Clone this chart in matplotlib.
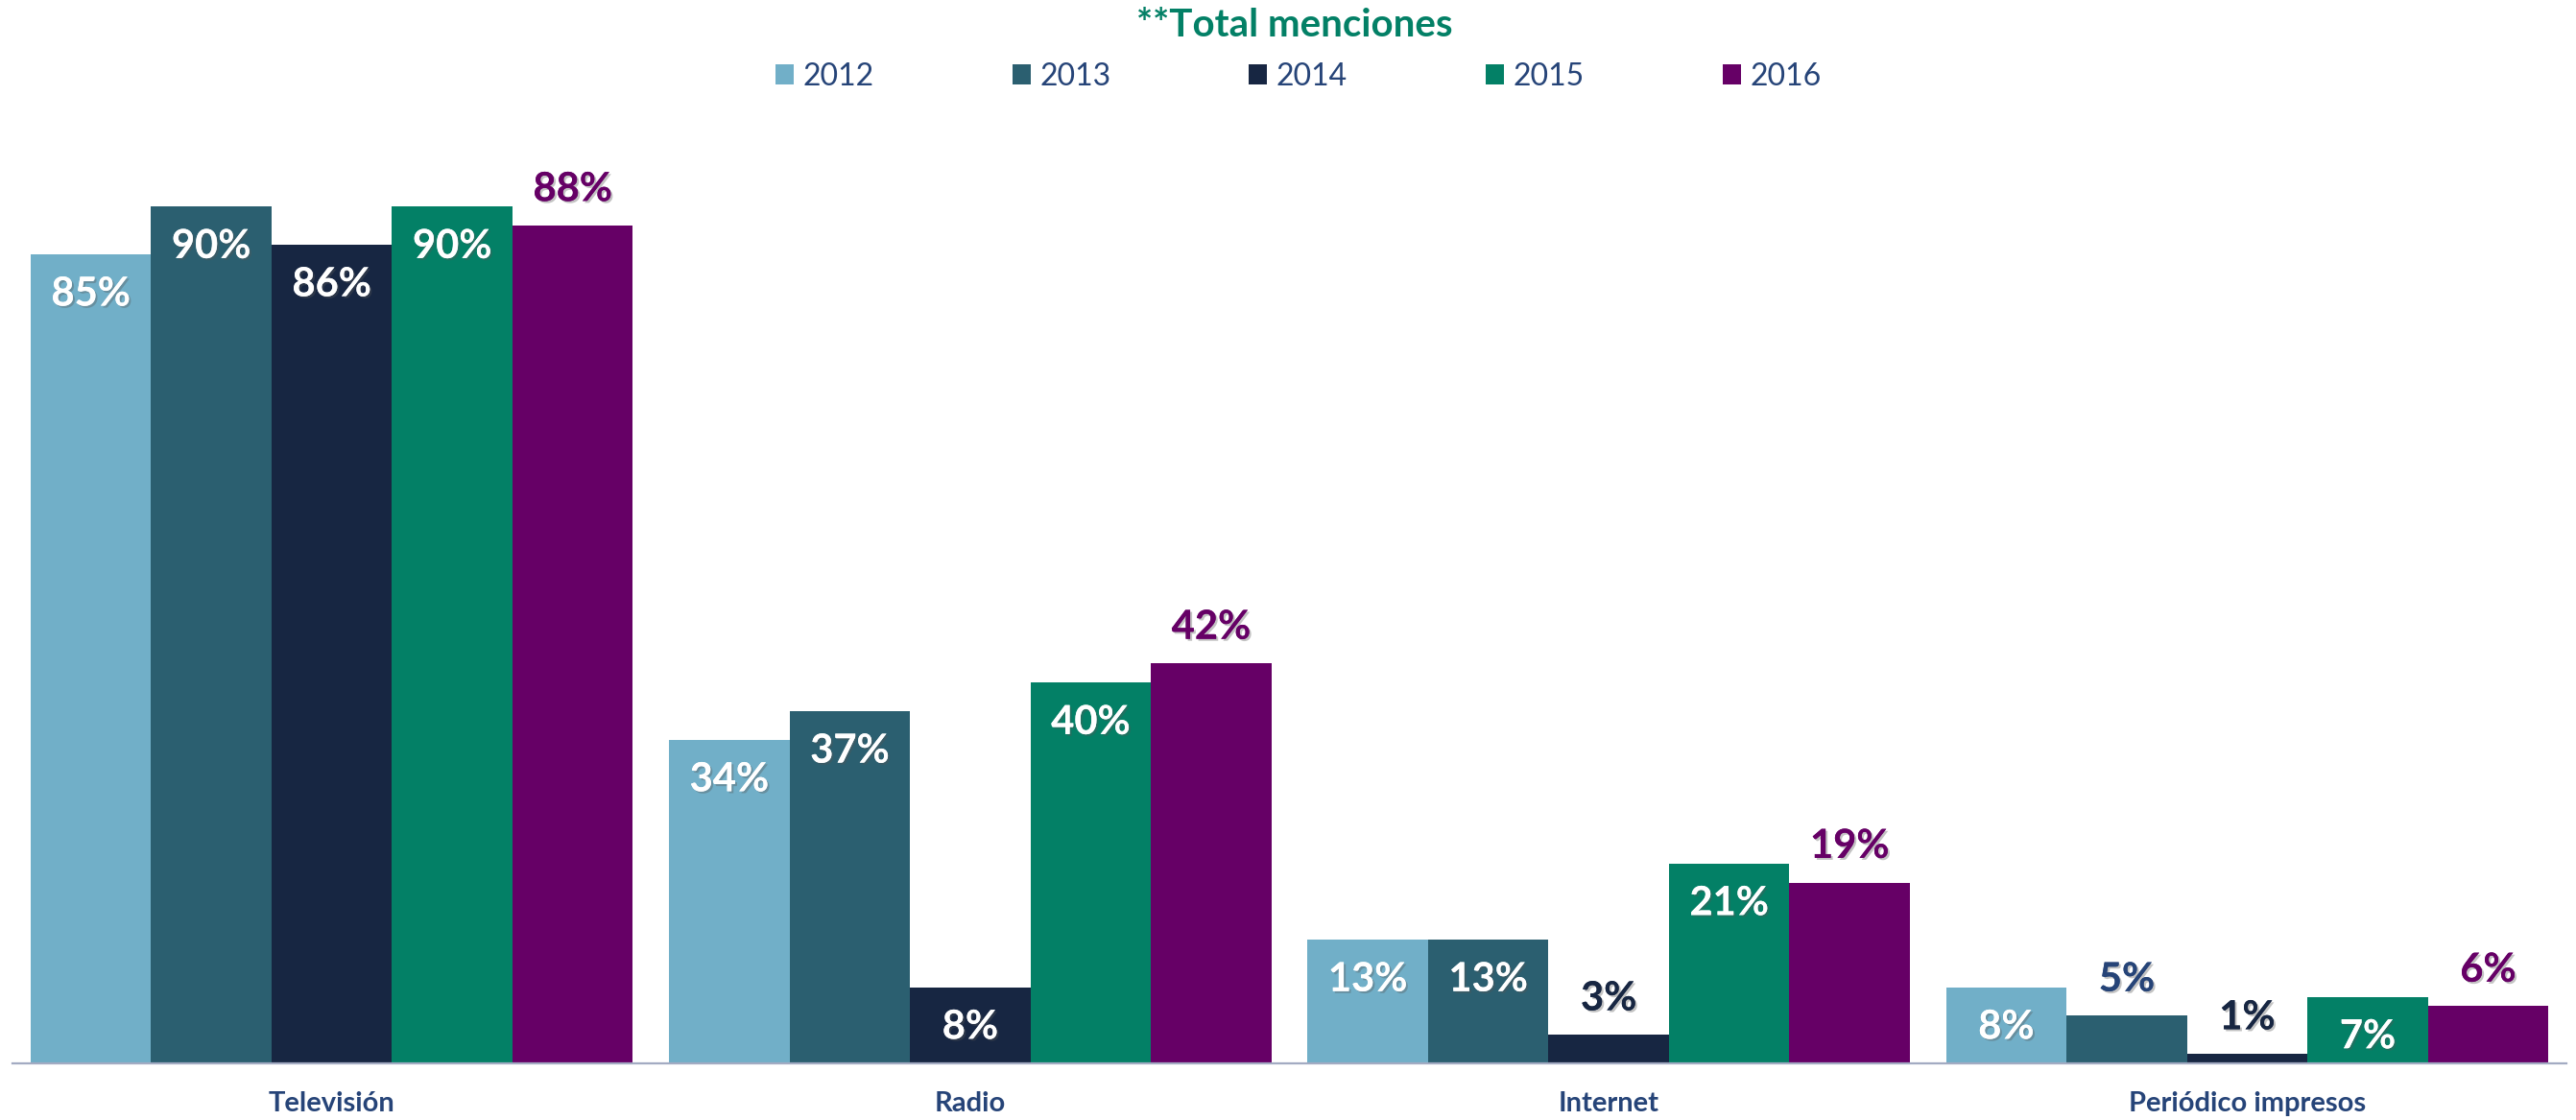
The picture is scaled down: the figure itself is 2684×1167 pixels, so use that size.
import matplotlib
matplotlib.use("Agg")
import matplotlib.pyplot as plt
import matplotlib.patheffects as pe
import numpy as np

categories = ["Televisión", "Radio", "Internet", "Periódico impresos"]
years = ["2012", "2013", "2014", "2015", "2016"]
values = {
    "2012": [85, 34, 13, 8],
    "2013": [90, 37, 13, 5],
    "2014": [86, 8, 3, 1],
    "2015": [90, 40, 21, 7],
    "2016": [88, 42, 19, 6],
}

COLORS = {
    "2012": "#71AFC8",
    "2013": "#2B5F70",
    "2014": "#172642",
    "2015": "#038066",
    "2016": "#660066",
}
OUT_LABEL = {"2012": "#264478", "2013": "#264478", "2014": "#172642",
             "2015": "#038066", "2016": "#660066"}
TEXT_BLUE = "#264478"

plt.rcParams["font.family"] = ["Lato", "DejaVu Sans"]

fig = plt.figure(figsize=(26.84, 11.67), dpi=100)
ax = fig.add_axes([13 / 2684, 59 / 1167, 2661 / 2684, 992 / 1167])

x = np.arange(len(categories))
w = 1 / 5.3
shadow = [pe.withSimplePatchShadow(offset=(1.5, -1.5), alpha=0.35, shadow_rgbFace="#555555"), pe.Normal()]

for i, yr in enumerate(years):
    xs = x + (i - 2) * w
    ax.bar(xs, values[yr], width=w, color=COLORS[yr], linewidth=0, label=yr)
    for xi, v in zip(xs, values[yr]):
        # 2016 and the very short bars get their label above the bar
        outside = yr == "2016" or v < 6
        if outside:
            ax.text(xi, v + 3.8, f"{v}%", ha="center", va="center", fontsize=30,
                    fontweight="bold", color=OUT_LABEL[yr], path_effects=shadow)
        else:
            ax.text(xi, v - 4.2, f"{v}%", ha="center", va="center", fontsize=30,
                    fontweight="bold", color="white", path_effects=shadow)

ax.set_xlim(-0.5, 3.5)
ax.set_ylim(0, 100)
ax.set_xticks(x)
ax.set_xticklabels(categories, fontsize=21, fontweight="bold", color=TEXT_BLUE)
ax.tick_params(axis="x", length=0, pad=21)
ax.set_yticks([])
for s in ["top", "right", "left"]:
    ax.spines[s].set_visible(False)
ax.spines["bottom"].set_color("#A3ABC2")
ax.spines["bottom"].set_linewidth(1.6)

fig.text(0.5025, 1 - 26 / 1167, "**Total menciones", ha="center", va="center",
         fontsize=29, fontweight="bold", color="#038066")

leg = fig.legend(loc="center", bbox_to_anchor=(0.504, 1 - 80 / 1167), ncol=5,
                 frameon=False, fontsize=23, handlelength=0.6, handleheight=0.62,
                 handletextpad=0.3, columnspacing=4.5)
for t in leg.get_texts():
    t.set_color(TEXT_BLUE)

fig.savefig("out.png", dpi=100)
